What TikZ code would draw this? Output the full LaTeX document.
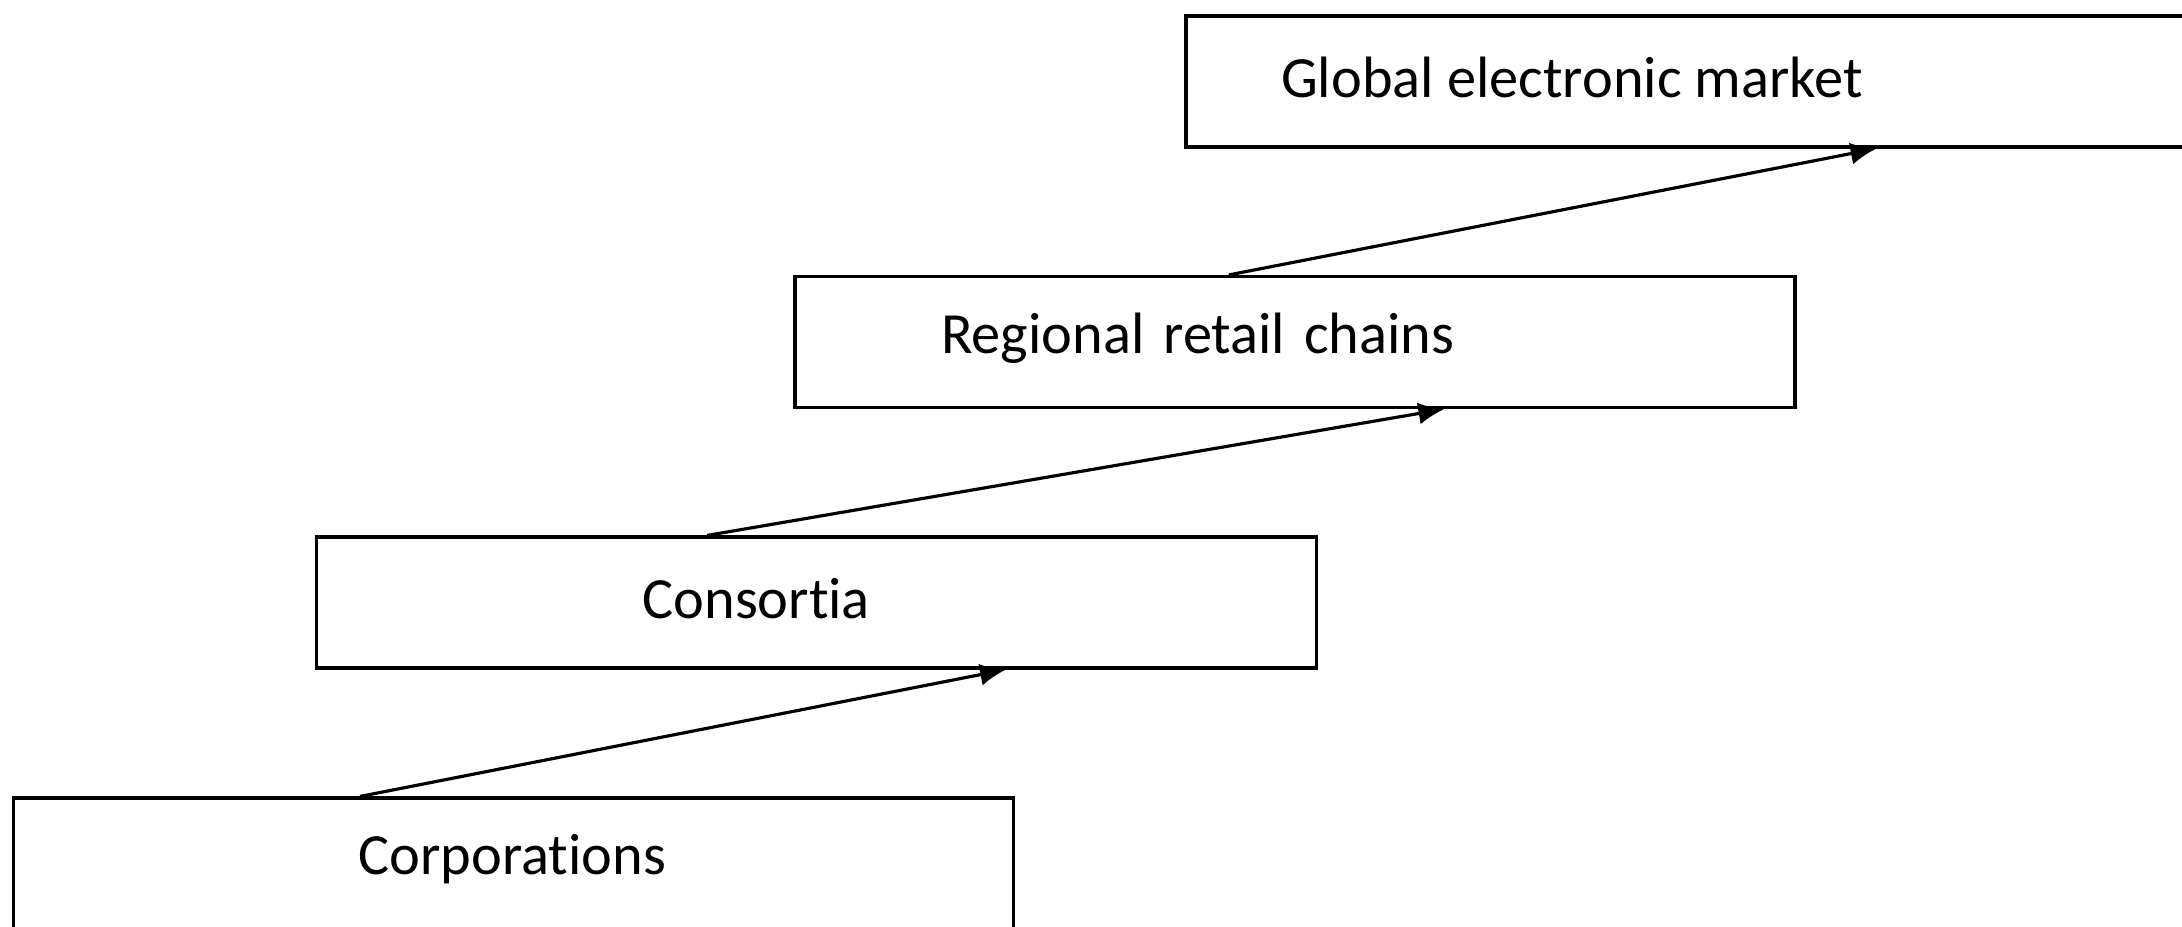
\documentclass[tikz,border=0pt]{standalone}
\usepackage{fontspec}
\setmainfont{Carlito}[Ligatures=NoCommon]
\usetikzlibrary{positioning,calc,arrows.meta}
\tikzset{stage/.style={draw,line width=0.9pt,rectangle,minimum width=10cm,
                       minimum height=1.31cm,inner sep=0pt},
         stagetext/.style={anchor=west,inner sep=0pt,
                           font=\fontsize{16.6}{19}\selectfont},
         climb/.style={line width=0.9pt,-{Latex[length=2.6mm,width=2.2mm]}}}

\begin{document}
\begin{tikzpicture}
% Page frame
\useasboundingbox (0,0) rectangle (21.82,-9.26);
% The four stages, each one step up and to the right
\node [stage] (corp) at (5.135,-8.635) {};
\node [stage] (cons) at (8.165,-6.025) {};
\node [stage] (chains) at (12.95,-3.42) {};
\node [stage] (market) at (16.86,-0.815) {};
% Labels sit left of centre in each box
\node [stagetext] (corptxt) at ([xshift=3.46cm,yshift=0.04cm]corp.west) {Corporations};
\node [stagetext] (constxt) at ([xshift=3.27cm,yshift=0.04cm]cons.west) {Consortia};
\node [stagetext] (chainstxt) at ([xshift=1.47cm,yshift=0.04cm]chains.west) {Regional\hspace{0.1em} retail\hspace{0.1em} chains};
\node [stagetext] (markettxt) at ([xshift=0.96cm,yshift=0.04cm]market.west) {Global electronic market};
% Arrows from the top of one stage to the bottom of the next
\draw [climb] ($ (corp.north west)!.347!(corp.north east) $) -- ($ (cons.south west)!.689!(cons.south east) $);
\draw [climb] ($ (cons.north west)!.391!(cons.north east) $) -- ($ (chains.south west)!.649!(chains.south east) $);
\draw [climb] ($ (chains.north west)!.434!(chains.north east) $) -- ($ (market.south west)!.69!(market.south east) $);
\end{tikzpicture}
\end{document}
